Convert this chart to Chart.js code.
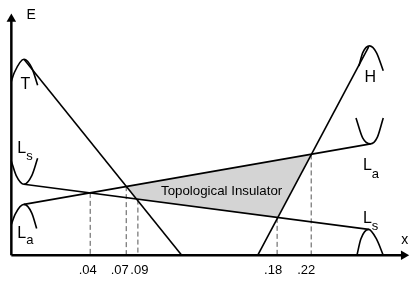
<!DOCTYPE html>
<html>
<head>
<meta charset="utf-8">
<script src="https://cdn.jsdelivr.net/npm/chart.js@4/dist/chart.umd.min.js"></script>
<style>
  html, body { margin: 0; padding: 0; background: #fff; }
  canvas { display: block; }
</style>
</head>
<body>
<canvas id="c" width="416" height="281"></canvas>
<script>
// schematic units: x grows to the right of the E axis, E grows up from the x axis

// straight bands
const tLine = [[13, 204], [175, 0]];
const hLine = [[253, 0], [367, 217]];
const laLine = [[13, 53], [369, 116]];
const lsLine = [[13, 74], [367, 27]];

// little parabolas at the band ends
const tCap = [[0, 181], [3, 190], [13, 204], [21, 195], [27, 177]];
const lsCupLeft = [[0, 98], [5, 83], [13, 74], [21, 83], [27, 101]];
const laCapLeft = [[0, 32], [4, 43], [13, 53], [21, 44], [26, 28]];
const hCap = [[357, 197], [361, 211], [368, 218], [375, 211], [382, 192]];
const laCupRight = [[354, 143], [361, 122], [369, 116], [376, 123], [382, 143]];
const lsCapRight = [[355, 0], [359, 17], [367, 27], [375, 17], [382, 0]];

// crossings marked on the x axis
const crossX = [81, 118, 130, 273, 308];
const crossE = [65, 72, 58, 39, 105];
const tickLabels = ['.04', '.07', '.09', '.18', '.22'];

// topological insulator region = corners T/La, H/La, H/Ls, T/Ls
const regionCorners = [1, 4, 3, 2, 1];

const axisX = [[0, 0], [403, 0]];
const axisE = [[0, 0], [0, 246]];

const pts = arr => arr.map(p => ({ x: p[0], y: p[1] }));

function band(arr) {
  return { data: pts(arr), borderColor: '#000', borderWidth: 1.6, pointRadius: 0, fill: false };
}
function curve(arr) {
  return { data: pts(arr), borderColor: '#000', borderWidth: 1.6, pointRadius: 0, fill: false,
           cubicInterpolationMode: 'monotone' };
}

const datasets = [];

datasets.push({
  data: regionCorners.map(i => ({ x: crossX[i], y: crossE[i] })),
  borderWidth: 0, pointRadius: 0,
  backgroundColor: '#d4d4d4', fill: 'shape', order: 10
});

crossX.forEach((x, i) => {
  datasets.push({
    data: [{ x: x, y: crossE[i] }, { x: x, y: 0 }],
    borderColor: '#555', borderWidth: 1, borderDash: [5, 3], pointRadius: 0, fill: false, order: 5
  });
});

[tLine, hLine, laLine, lsLine].forEach(l => datasets.push(band(l)));
[tCap, lsCupLeft, laCapLeft, hCap, laCupRight, lsCapRight].forEach(c => datasets.push(curve(c)));

datasets.push({
  data: pts(axisX), borderColor: '#000', borderWidth: 2.5,
  pointRadius: [0, 5.5], pointStyle: 'triangle', rotation: 90,
  pointBackgroundColor: '#000', pointBorderWidth: 0, fill: false
});
datasets.push({
  data: pts(axisE), borderColor: '#000', borderWidth: 2.5,
  pointRadius: [0, 5.5], pointStyle: 'triangle', rotation: 0,
  pointBackgroundColor: '#000', pointBorderWidth: 0, fill: false
});

const FONT = '"Liberation Sans", Arial, Helvetica, sans-serif';

const textPlugin = {
  id: 'texts',
  afterDatasetsDraw(chart, args, opts) {
    const ctx = chart.ctx;
    const xs = chart.scales.x, ys = chart.scales.y;
    ctx.save();
    ctx.fillStyle = '#000';
    ctx.textBaseline = 'alphabetic';
    opts.labels.forEach(l => {
      const px = xs.getPixelForValue(l.x), py = ys.getPixelForValue(l.y);
      ctx.font = l.size + 'px ' + FONT;
      ctx.textAlign = 'left';
      ctx.fillText(l.text, px, py);
      if (l.sub) {
        const w = ctx.measureText(l.text).width;
        ctx.font = '13px ' + FONT;
        ctx.fillText(l.sub, px + w, py + l.subDy);
      }
    });
    ctx.font = '13px ' + FONT;
    ctx.textAlign = 'center';
    tickLabels.forEach((t, i) => {
      const px = xs.getPixelForValue(crossX[i]) + opts.tickShift[i];
      ctx.fillText(t, px, ys.getPixelForValue(0) + 18.3);
    });
    ctx.restore();
  }
};

new Chart(document.getElementById('c'), {
  type: 'scatter',
  data: { datasets: datasets },
  options: {
    responsive: false,
    devicePixelRatio: 1,
    animation: false,
    showLine: true,
    clip: false,
    layout: { padding: 0 },
    scales: {
      x: { type: 'linear', display: false, min: -6, max: 410 },
      y: { type: 'linear', display: false, min: -21, max: 260 }
    },
    plugins: {
      legend: { display: false },
      tooltip: { enabled: false },
      texts: {
        tickShift: [-2.5, -6.5, 1.5, -4, -5],
        labels: [
          { text: 'E', x: 15.6, y: 245.7, size: 14 },
          { text: 'T', x: 9.4, y: 173.3, size: 16 },
          { text: 'H', x: 362.8, y: 180, size: 16 },
          { text: 'L', sub: 's', subDy: 7, x: 6.1, y: 106.7, size: 16 },
          { text: 'L', sub: 'a', subDy: 6.6, x: 6.1, y: 18.3, size: 16 },
          { text: 'L', sub: 'a', subDy: 8, x: 361.1, y: 88.3, size: 16 },
          { text: 'L', sub: 's', subDy: 6.5, x: 361.1, y: 33.3, size: 16 },
          { text: 'x', x: 400.5, y: 11.7, size: 14 },
          { text: 'Topological Insulator', x: 153.7, y: 63.3, size: 13.3 }
        ]
      }
    }
  },
  plugins: [textPlugin]
});
</script>
</body>
</html>
